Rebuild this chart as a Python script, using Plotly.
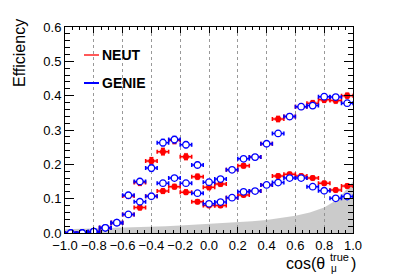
import plotly.graph_objects as go

# ---------------- data ----------------
cos_bins = [-0.96, -0.88, -0.80, -0.72, -0.64, -0.56, -0.48, -0.40, -0.32, -0.24,
            -0.16, -0.08, 0.00, 0.08, 0.16, 0.24, 0.32, 0.40, 0.48, 0.56,
            0.64, 0.72, 0.80, 0.88, 0.96]
bin_half = [0.04] * 25

neut_upper = [0.000, 0.000, 0.003, 0.015, 0.030, 0.108, 0.147, 0.210, 0.237, 0.270,
              0.222, 0.164, 0.133, 0.143, 0.184, 0.196, 0.221, 0.260, 0.332, 0.339,
              0.368, 0.378, 0.388, 0.386, 0.400]
genie_upper = [0.000, 0.000, 0.004, 0.015, 0.030, 0.110, 0.150, 0.189, 0.263, 0.272,
               0.257, 0.198, 0.148, 0.157, 0.184, 0.216, 0.221, 0.260, 0.290, 0.339,
               0.368, 0.371, 0.397, 0.396, 0.378]
neut_lower = [0.000, 0.000, 0.003, 0.015, 0.030, 0.054, 0.074, 0.107, 0.122, 0.135,
              0.119, 0.091, 0.080, 0.080, 0.103, 0.111, 0.122, 0.140, 0.166, 0.171,
              0.166, 0.160, 0.145, 0.125, 0.137]
genie_lower = [0.000, 0.000, 0.004, 0.015, 0.030, 0.054, 0.091, 0.107, 0.145, 0.160,
               0.145, 0.116, 0.085, 0.090, 0.103, 0.120, 0.122, 0.140, 0.147, 0.160,
               0.160, 0.135, 0.123, 0.101, 0.106]
err_upper = [0.003, 0.003, 0.003, 0.004, 0.005, 0.007, 0.008, 0.009, 0.009, 0.009,
             0.008, 0.007, 0.006, 0.006, 0.006, 0.006, 0.006, 0.006, 0.007, 0.007,
             0.007, 0.007, 0.007, 0.007, 0.007]
err_lower = [0.003, 0.003, 0.003, 0.004, 0.005, 0.005, 0.006, 0.006, 0.006, 0.006,
             0.006, 0.005, 0.005, 0.005, 0.005, 0.005, 0.005, 0.005, 0.005, 0.005,
             0.005, 0.005, 0.005, 0.005, 0.005]

# shape of the true cos(theta) distribution (grey, arbitrary scale)
dist_x = [-1.0, -0.9, -0.8, -0.7, -0.6, -0.5, -0.4, -0.3, -0.2, -0.1, 0.0,
          0.1, 0.2, 0.3, 0.4, 0.5, 0.6, 0.7, 0.8, 0.9, 1.0]
dist_y = [0.011, 0.012, 0.013, 0.014, 0.015, 0.017, 0.019, 0.020, 0.022, 0.024, 0.026,
          0.028, 0.031, 0.034, 0.038, 0.043, 0.050, 0.060, 0.074, 0.100, 0.150]

legend_labels = ["NEUT", "GENIE"]

RED = "#ff0000"
BLUE = "#0000ff"
FONT = "Liberation Sans, Arial, Helvetica, sans-serif"

fig = go.Figure()

fig.add_trace(go.Scatter(x=dist_x, y=dist_y, mode="lines", fill="tozeroy",
                         fillcolor="rgba(140,140,140,0.45)", line=dict(width=0),
                         hoverinfo="skip", showlegend=False))


def add_series(y, err, color, halo, filled):
    # translucent halo (error box look)
    fig.add_trace(go.Scatter(
        x=cos_bins, y=y, mode="markers",
        marker=dict(size=1, color="rgba(0,0,0,0)"),
        error_x=dict(type="data", array=bin_half, color=halo, thickness=4, width=0),
        error_y=dict(type="data", array=[e + 0.004 for e in err], color=halo, thickness=4, width=0),
        showlegend=False, hoverinfo="skip"))
    if filled:
        mk = dict(symbol="circle", size=6, color=color, line=dict(width=0))
    else:
        mk = dict(symbol="circle", size=6.5, color="white", line=dict(width=1.3, color=color))
    fig.add_trace(go.Scatter(
        x=cos_bins, y=y, mode="markers", marker=mk,
        error_x=dict(type="data", array=bin_half, color=color, thickness=1.5, width=2),
        error_y=dict(type="data", array=err, color=color, thickness=1.5, width=2),
        showlegend=False))


add_series(neut_upper, err_upper, RED, "rgba(255,0,0,0.18)", True)
add_series(neut_lower, err_lower, RED, "rgba(255,0,0,0.18)", True)
add_series(genie_upper, err_upper, BLUE, "rgba(0,0,255,0.13)", False)
add_series(genie_lower, err_lower, BLUE, "rgba(0,0,255,0.13)", False)

annotations = [
    dict(text="Efficiency", textangle=-90, x=-0.156, y=0.874, xref="paper", yref="paper",
         showarrow=False, font=dict(size=16, family=FONT, color="black"),
         xanchor="center", yanchor="middle"),
    dict(text="cos(θ", x=1.0 - 26 / 288, y=-0.146, xref="paper", yref="paper",
         showarrow=False, font=dict(size=16, family=FONT, color="black"),
         xanchor="right", yanchor="middle"),
    dict(text="true", x=1.0 - 25 / 288, y=-0.115, xref="paper", yref="paper",
         showarrow=False, font=dict(size=11, family=FONT, color="black"),
         xanchor="left", yanchor="middle"),
    dict(text="μ", x=1.0 - 24 / 288, y=-0.172, xref="paper", yref="paper",
         showarrow=False, font=dict(size=10, family=FONT, color="black"),
         xanchor="left", yanchor="middle"),
    dict(text=")", x=1.0 - 4 / 288, y=-0.146, xref="paper", yref="paper",
         showarrow=False, font=dict(size=16, family=FONT, color="black"),
         xanchor="left", yanchor="middle"),
]
shapes = []
for i, (lab, col) in enumerate(zip(legend_labels, [RED, BLUE])):
    yy = (233 - (55 + 28 * i)) / 206
    annotations.append(dict(text="<b>%s</b>" % lab, x=(100 - 65) / 288, y=yy,
                            xref="paper", yref="paper", showarrow=False,
                            xanchor="left", yanchor="middle",
                            font=dict(size=14, family=FONT, color="black")))
    shapes.append(dict(type="line", xref="paper", yref="paper",
                       x0=(84 - 65) / 288, x1=(99 - 65) / 288, y0=yy, y1=yy,
                       line=dict(color=col if i else "rgba(255,0,0,0.65)", width=2)))

fig.update_layout(
    width=407, height=276,
    margin=dict(l=65, r=54, t=27, b=43),
    paper_bgcolor="white", plot_bgcolor="white",
    font=dict(family=FONT, size=13, color="black"),
    showlegend=False,
    annotations=annotations, shapes=shapes,
    xaxis=dict(range=[-1, 1], dtick=0.2, tick0=-1, tickformat=".1f",
               showline=True, linecolor="black", linewidth=1, mirror="allticks",
               ticks="inside", ticklen=6, tickcolor="black",
               minor=dict(dtick=0.05, ticks="inside", ticklen=3, tickcolor="black", showgrid=False),
               showgrid=True, gridcolor="#999999", griddash="dot", gridwidth=1,
               zeroline=False, tickfont=dict(size=13)),
    yaxis=dict(range=[0, 0.6], dtick=0.1, tickformat=".1f",
               showline=True, linecolor="black", linewidth=1, mirror="allticks",
               ticks="inside", ticklen=9, tickcolor="black",
               minor=dict(dtick=0.02, ticks="inside", ticklen=5, tickcolor="black", showgrid=False),
               showgrid=False, zeroline=False, tickfont=dict(size=13)),
)

fig.write_html("out.html", config={"displayModeBar": False},
               post_script="document.body.style.margin='0';")
